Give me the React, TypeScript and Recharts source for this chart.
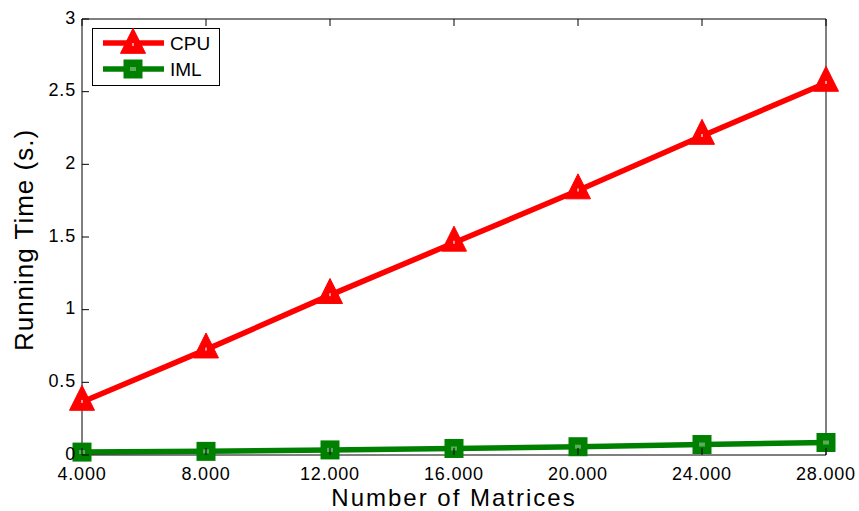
import React from 'react';
import { LineChart, Line, XAxis, YAxis, Legend } from 'recharts';

const matrices = [4000, 8000, 12000, 16000, 20000, 24000, 28000];
const xTickLabels = ['4.000', '8.000', '12.000', '16.000', '20.000', '24.000', '28.000'];
const cpuTime = [0.365, 0.725, 1.1, 1.46, 1.82, 2.195, 2.56];
const imlTime = [0.02, 0.025, 0.035, 0.045, 0.057, 0.072, 0.086];
const yTicks = [0, 0.5, 1, 1.5, 2, 2.5, 3];
const yTickLabels = ['0', '0.5', '1', '1.5', '2', '2.5', '3'];

const data = matrices.map((n, i) => ({ n, cpu: cpuTime[i], iml: imlTime[i] }));

const FONT = '"Liberation Sans", Arial, sans-serif';
const RED = '#ff0000';
const GREEN = '#008000';
const TICK_LEN = 7;

// MATLAB-style markers: triangle centred on its centroid, square on its middle
const Triangle = ({ cx, cy, size = 25 }: { cx: number; cy: number; size?: number }) => {
  const h = size;
  const w = size / 2;
  return (
    <g>
      <polygon
        points={`${cx},${cy - (2 * h) / 3} ${cx - w},${cy + h / 3} ${cx + w},${cy + h / 3}`}
        fill={RED}
        stroke={RED}
        strokeWidth={1}
      />
      <rect x={cx - 1} y={cy - 2} width={2} height={3} fill="#fff" opacity={0.6} />
    </g>
  );
};

const Square = ({ cx, cy, size = 19 }: { cx: number; cy: number; size?: number }) => (
  <g>
    <rect x={cx - size / 2} y={cy - size / 2} width={size} height={size} fill={GREEN} />
    <rect x={cx - 3} y={cy - 2} width={6} height={4} fill="#fff" opacity={0.35} />
  </g>
);

const BottomTick = (props: any) => {
  const { x, y, payload } = props;
  return (
    <g>
      <line x1={x} y1={y} x2={x} y2={y - TICK_LEN} stroke="#000" />
      <text x={x} y={y + 24.5} textAnchor="middle" fontSize={18} letterSpacing={0.8} fontFamily={FONT} fill="#000">
        {xTickLabels[payload.index]}
      </text>
    </g>
  );
};

const TopTick = (props: any) => {
  const { x, y } = props;
  return <line x1={x} y1={y} x2={x} y2={y + TICK_LEN} stroke="#000" />;
};

const LeftTick = (props: any) => {
  const { x, y, payload } = props;
  return (
    <g>
      <line x1={x} y1={y} x2={x + TICK_LEN} y2={y} stroke="#000" />
      <text x={x - 6} y={y + 4.5} textAnchor="end" fontSize={18} letterSpacing={0.8} fontFamily={FONT} fill="#000">
        {yTickLabels[payload.index]}
      </text>
    </g>
  );
};

const RightTick = (props: any) => {
  const { x, y } = props;
  return <line x1={x} y1={y} x2={x - TICK_LEN} y2={y} stroke="#000" />;
};

const LegendBox = (props: any) => {
  const items = props.payload || [];
  return (
    <svg width={128} height={58} style={{ display: 'block' }}>
      <rect x={0.5} y={0.5} width={127} height={57} fill="#fff" stroke="#000" />
      {items.map((item: any, i: number) => {
        const y = 15 + i * 26;
        const isCpu = item.dataKey === 'cpu';
        return (
          <g key={item.value}>
            <line x1={11} y1={y} x2={72} y2={y} stroke={item.color} strokeWidth={5.5} />
            {isCpu ? <Triangle cx={41} cy={y + 2} /> : <Square cx={41} cy={y} />}
            <text x={78} y={y + 7} fontSize={19} fontFamily={FONT} fill="#000">
              {item.value}
            </text>
          </g>
        );
      })}
    </svg>
  );
};

export default function App() {
  return (
    <div style={{ position: 'absolute', left: 0, top: 0, background: '#fff' }}>
      <LineChart width={859} height={511} data={data} margin={{ top: 18, right: 32, bottom: 55, left: 81 }}>
        <XAxis
          dataKey="n"
          type="number"
          domain={[4000, 28000]}
          ticks={matrices}
          height={1}
          tickSize={0}
          tickMargin={0}
          tickLine={false}
          axisLine={{ stroke: '#000' }}
          tick={<BottomTick />}
          interval={0}
          label={{
            content: () => (
              <text x={454} y={505.5} textAnchor="middle" fontSize={24} letterSpacing={2} fontFamily={FONT} fill="#000">
                Number of Matrices
              </text>
            ),
          }}
        />
        <XAxis
          xAxisId="top"
          orientation="top"
          dataKey="n"
          type="number"
          domain={[4000, 28000]}
          ticks={matrices}
          height={1}
          tickSize={0}
          tickMargin={0}
          tickLine={false}
          axisLine={{ stroke: '#000' }}
          tick={<TopTick />}
          interval={0}
        />
        <YAxis
          type="number"
          domain={[0, 3]}
          ticks={yTicks}
          width={1}
          tickSize={0}
          tickMargin={0}
          tickLine={false}
          axisLine={{ stroke: '#000' }}
          tick={<LeftTick />}
          interval={0}
          label={{
            content: () => (
              <text
                x={33}
                y={240}
                transform="rotate(-90 33 240)"
                textAnchor="middle"
                fontSize={26}
                letterSpacing={1}
                fontFamily={FONT}
                fill="#000"
              >
                Running Time (s.)
              </text>
            ),
          }}
        />
        <YAxis
          yAxisId="right"
          orientation="right"
          type="number"
          domain={[0, 3]}
          ticks={yTicks}
          width={1}
          tickSize={0}
          tickMargin={0}
          tickLine={false}
          axisLine={{ stroke: '#000' }}
          tick={<RightTick />}
          interval={0}
        />
        <Legend
          layout="vertical"
          align="center"
          verticalAlign="middle"
          content={<LegendBox />}
          wrapperStyle={{ left: 92, top: 28, width: 128, height: 58 }}
        />
        <Line
          dataKey="cpu"
          name="CPU"
          stroke={RED}
          strokeWidth={5.5}
          isAnimationActive={false}
          dot={(p: any) => <Triangle key={`cpu-${p.index}`} cx={p.cx} cy={p.cy} />}
          activeDot={false}
        />
        <Line
          dataKey="iml"
          name="IML"
          stroke={GREEN}
          strokeWidth={5.5}
          isAnimationActive={false}
          dot={(p: any) => <Square key={`iml-${p.index}`} cx={p.cx} cy={p.cy} />}
          activeDot={false}
        />
      </LineChart>
    </div>
  );
}
